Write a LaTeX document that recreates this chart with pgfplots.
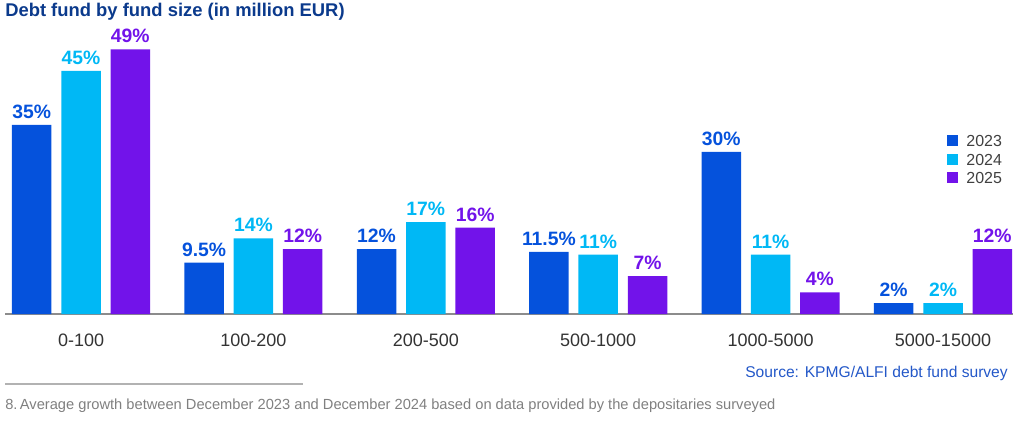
\documentclass[border=0pt]{standalone}
\usepackage{pgfplots}
\pgfplotsset{compat=1.18}
\usepackage{fontspec}
\setmainfont{Liberation Sans}

\definecolor{c2023}{HTML}{0552DC}
\definecolor{c2024}{HTML}{00B8F5}
\definecolor{c2025}{HTML}{7213EA}
\definecolor{titleblue}{HTML}{0B3A8C}
\definecolor{srcblue}{HTML}{2458C8}
\definecolor{axisgray}{HTML}{8C8C8C}

% page pixel -> picture coordinate (1px = 0.75pt, axis box lower left at px (5,314))
\newcommand{\px}[2]{({(#1-5)*0.75pt},{(314-#2)*0.75pt})}

\begin{document}
\begin{tikzpicture}
\useasboundingbox \px{0}{0} rectangle \px{1024}{425};

\begin{axis}[
  at={(0,0)}, anchor=south west,
  scale only axis,
  width=756pt, height=210.6pt,
  xmin=-0.441, xmax=5.406,
  ymin=0, ymax=52,
  axis x line=bottom, axis y line=none,
  x axis line style={-, draw=axisgray, line width=1.1pt},
  xtick={0,1,2,3,4,5},
  xticklabels={0-100,100-200,200-500,500-1000,1000-5000,5000-15000},
  xtick style={draw=none},
  xticklabel style={font=\fontsize{13.5}{15}\selectfont, text=black!80, anchor=center, yshift=-15.5pt},
  ybar, bar width=0.229,
  clip=false,
  /pgf/number format/assume math mode=true,
  nodes near coords={\pgfmathprintnumber{\pgfplotspointmeta}\%},
  every node near coord/.append style={font=\fontsize{14.5}{16}\bfseries, inner sep=4.5pt},
  legend style={at={(0.9345,0.645)}, anchor=north west, draw=none, fill=none,
    font=\fontsize{12}{14}\selectfont, text=black!75, inner sep=0pt, row sep=3pt,
    nodes={inner sep=1pt, text height=9pt, text depth=0pt},
    /tikz/every odd column/.append style={column sep=5pt}},
  legend cell align=left,
  legend image code/.code={\fill[#1] (0pt,-4.2pt) rectangle (8.4pt,4.2pt);},
]
\addplot[fill=c2023, draw=none, bar shift=-0.286,
  every node near coord/.append style={text=c2023}] coordinates {
  (0,35) (1,9.5) (2,12) (3,11.5) (4,30) (5,2)};
\addlegendentry{2023}
\addplot[fill=c2024, draw=none, bar shift=0,
  every node near coord/.append style={text=c2024}] coordinates {
  (0,45) (1,14) (2,17) (3,11) (4,11) (5,2)};
\addlegendentry{2024}
\addplot[fill=c2025, draw=none, bar shift=0.286,
  every node near coord/.append style={text=c2025}] coordinates {
  (0,49) (1,12) (2,16) (3,7) (4,4) (5,12)};
\addlegendentry{2025}
\end{axis}

\node[anchor=west, inner sep=0pt, text=titleblue, font=\fontsize{13.8}{16}\bfseries] at \px{5}{12}
  {Debt fund by fund size (in million EUR)};
\node[anchor=east, inner sep=0pt, text=srcblue, font=\fontsize{11.7}{14}\selectfont] at \px{1008}{373}
  {Source: KPMG/ALFI debt fund survey};
\draw[black!30, line width=0.8pt] \px{5}{384} -- \px{303}{384};
\node[anchor=west, inner sep=0pt, text=black!50, font=\fontsize{11}{13}\selectfont] at \px{5}{406}
  {8.\,Average growth between December 2023 and December 2024 based on data provided by the depositaries surveyed};
\end{tikzpicture}
\end{document}
